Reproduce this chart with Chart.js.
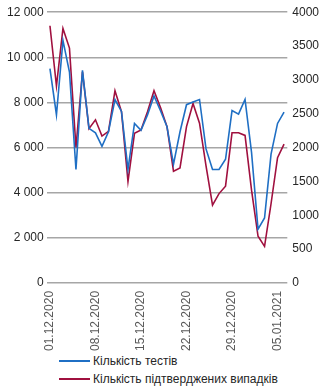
<!DOCTYPE html>
<html>
<head>
  <meta charset="UTF-8">
  <title>Тести та випадки</title>
  <script src="https://cdn.jsdelivr.net/npm/chart.js"></script>
  <style>
    body {
      margin: 0;
      background: #fff;
      font-family: "Liberation Sans", Arial, sans-serif;
    }
    #wrap {
      position: relative;
      width: 331px;
      height: 352px;
    }
    #legend {
      padding-left: 59px;
      font-size: 12px;
      color: #262626;
    }
    #legend div {
      height: 18px;
      line-height: 18px;
      display: flex;
      align-items: center;
    }
    #legend span.ln {
      display: inline-block;
      width: 31px;
      height: 2px;
      margin-right: 3px;
    }
  </style>
</head>
<body>
  <div id="wrap"><canvas id="chart"></canvas></div>
  <div id="legend"></div>

  <script>
    // 01.12.2020 ... 06.01.2021, one point per day
    const dates = [
      "01.12.2020", "02.12.2020", "03.12.2020", "04.12.2020", "05.12.2020", "06.12.2020", "07.12.2020",
      "08.12.2020", "09.12.2020", "10.12.2020", "11.12.2020", "12.12.2020", "13.12.2020", "14.12.2020",
      "15.12.2020", "16.12.2020", "17.12.2020", "18.12.2020", "19.12.2020", "20.12.2020", "21.12.2020",
      "22.12.2020", "23.12.2020", "24.12.2020", "25.12.2020", "26.12.2020", "27.12.2020", "28.12.2020",
      "29.12.2020", "30.12.2020", "31.12.2020", "01.01.2021", "02.01.2021", "03.01.2021", "04.01.2021",
      "05.01.2021", "06.01.2021"
    ];

    const tests = [
      9500, 7450, 10750, 9350, 5030, 9420, 6850, 6650, 6050, 6700,
      8130, 7600, 5030, 7070, 6770, 7450, 8290, 7630, 6920, 5260,
      6700, 7900, 8020, 8130, 5940, 5030, 5030, 5480, 7640, 7480,
      8130, 5790, 2380, 2880, 5710, 7070, 7570
    ];

    const cases = [
      3800, 2910, 3760, 3470, 2000, 3120, 2280, 2410, 2170, 2240,
      2840, 2530, 1500, 2210, 2260, 2530, 2840, 2590, 2310, 1650,
      1700, 2310, 2650, 2360, 1730, 1150, 1320, 1430, 2220, 2220,
      2180, 1370, 690, 540, 1170, 1850, 2050
    ];

    const testsLabel = "Кількість тестів";
    const casesLabel = "Кількість підтверджених випадків";
    const blue = "#1f6fc4";
    const red = "#a0103f";

    const fmt = v => String(v).replace(/\B(?=(\d{3})+(?!\d))/g, " ");

    new Chart(document.getElementById("chart"), {
      type: "line",
      data: {
        labels: dates,
        datasets: [
          {
            label: testsLabel,
            data: tests,
            borderColor: blue,
            borderWidth: 1.6,
            pointRadius: 0,
            tension: 0,
            yAxisID: "y"
          },
          {
            label: casesLabel,
            data: cases,
            borderColor: red,
            borderWidth: 1.6,
            pointRadius: 0,
            tension: 0,
            yAxisID: "y1"
          }
        ]
      },
      options: {
        responsive: true,
        maintainAspectRatio: false,
        animation: false,
        layout: { padding: { left: 4, right: 7, top: 1, bottom: 1 } },
        plugins: {
          legend: { display: false },
          tooltip: { enabled: false }
        },
        scales: {
          x: {
            offset: true,
            grid: { display: false },
            border: { display: false },
            ticks: {
              autoSkip: false,
              minRotation: 90,
              maxRotation: 90,
              padding: 0,
              color: "#595959",
              font: { family: "Liberation Sans", size: 12 },
              callback: (v, i) => (i % 7 === 0 ? dates[i] : "")
            }
          },
          y: {
            position: "left",
            min: 0,
            max: 12000,
            grid: { color: "#a6a6a6", lineWidth: 1.6, drawTicks: false },
            border: { display: false },
            ticks: {
              stepSize: 2000,
              padding: 3,
              color: "#262626",
              font: { family: "Liberation Sans", size: 12 },
              callback: v => fmt(v)
            }
          },
          y1: {
            position: "right",
            min: 0,
            max: 4000,
            grid: { display: false, drawTicks: false },
            border: { display: false },
            ticks: {
              stepSize: 500,
              padding: 5,
              color: "#262626",
              font: { family: "Liberation Sans", size: 12 },
              callback: v => String(v)
            }
          }
        }
      }
    });

    const legend = document.getElementById("legend");
    [[testsLabel, blue], [casesLabel, red]].forEach(([name, color]) => {
      const row = document.createElement("div");
      row.innerHTML = `<span class="ln" style="background:${color}"></span>${name}`;
      legend.appendChild(row);
    });
  </script>
</body>
</html>
